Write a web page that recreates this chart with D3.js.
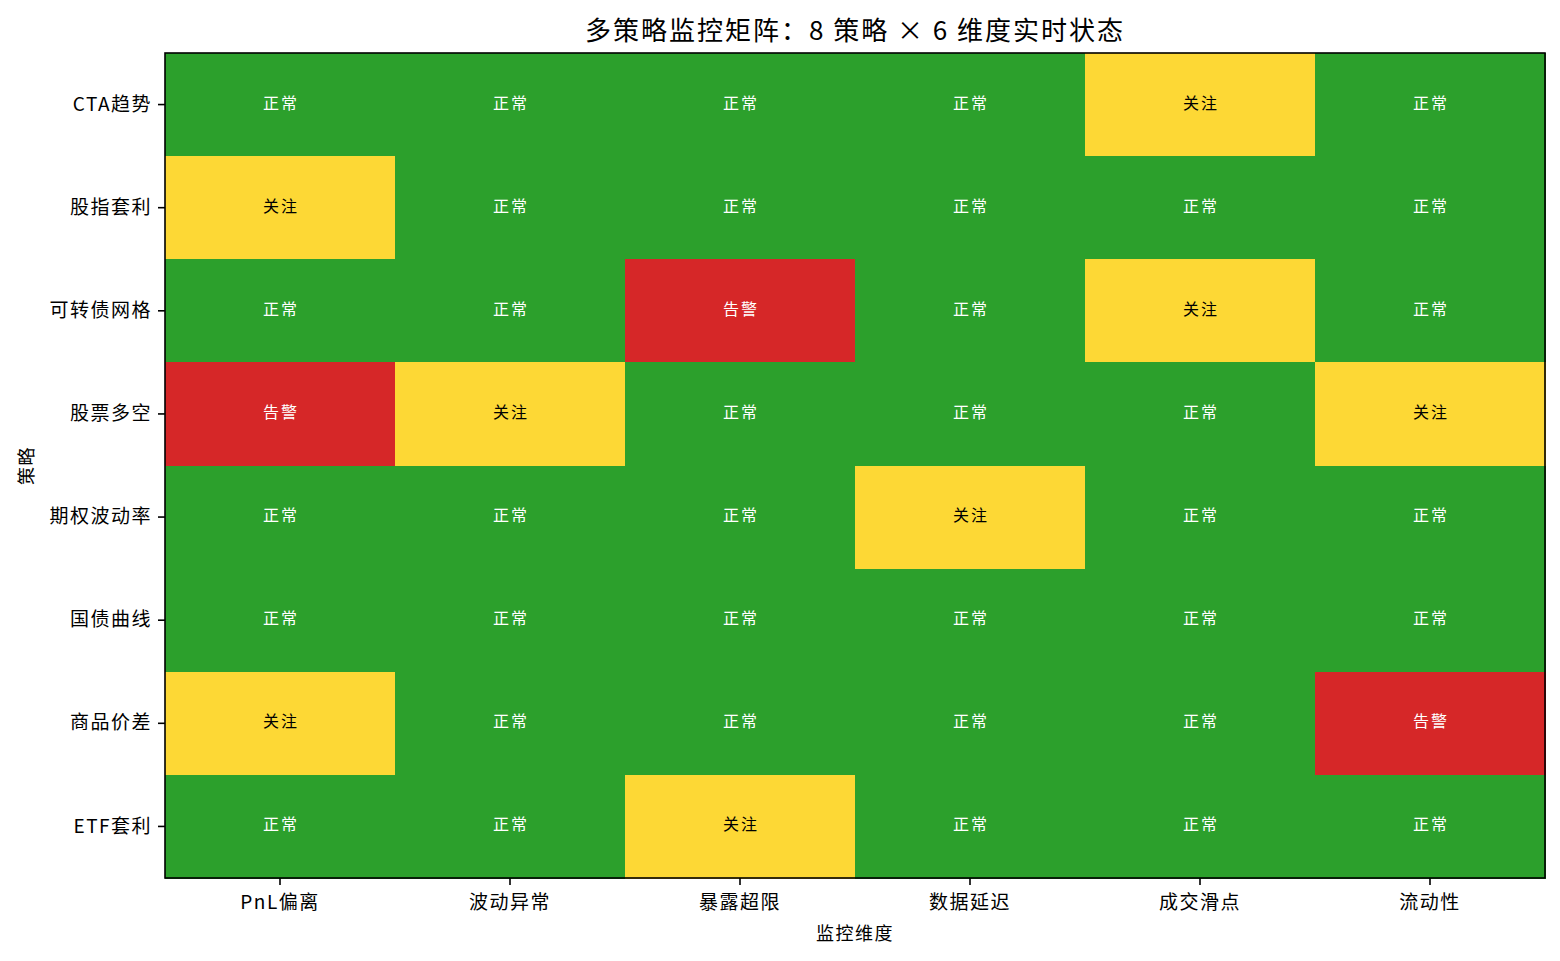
<!DOCTYPE html>
<html>
<head>
<meta charset="utf-8">
<script src="https://cdn.jsdelivr.net/npm/d3@7"></script>
<style>
  body { margin: 0; background: #fff; }
  text { font-family: "Noto Sans CJK SC", "DejaVu Sans", sans-serif; }
</style>
</head>
<body>
<div id="chart"></div>
<script>
const WIDTH = 1560;
const HEIGHT = 961;
const MARGIN = {top: 53, right: 15, bottom: 83, left: 165};

// strategies (rows) and monitoring dimensions (columns)
const strategies = ['CTA趋势', '股指套利', '可转债网格', '股票多空', '期权波动率', '国债曲线', '商品价差', 'ETF套利'];
const dimensions = ['PnL偏离', '波动异常', '暴露超限', '数据延迟', '成交滑点', '流动性'];

// 0 = 正常, 1 = 关注, 2 = 告警
const statusRows = [
  [0, 0, 0, 0, 1, 0],
  [1, 0, 0, 0, 0, 0],
  [0, 0, 2, 0, 1, 0],
  [2, 1, 0, 0, 0, 1],
  [0, 0, 0, 1, 0, 0],
  [0, 0, 0, 0, 0, 0],
  [1, 0, 0, 0, 0, 2],
  [0, 0, 1, 0, 0, 0]
];
const statusNames = ['正常', '关注', '告警'];
const statusColors = ['#2ca02c', '#fdd835', '#d62728'];
const textColors = ['#ffffff', '#000000', '#ffffff'];

const cells = [];
statusRows.forEach((row, i) => {
  row.forEach((v, j) => cells.push({strategy: strategies[i], dim: dimensions[j], v: v}));
});

const svg = d3.select('#chart')
  .append('svg')
  .attr('width', WIDTH)
  .attr('height', HEIGHT);

const xScale = d3.scaleBand()
  .domain(dimensions)
  .range([MARGIN.left, WIDTH - MARGIN.right]);

const yScale = d3.scaleBand()
  .domain(strategies)
  .range([MARGIN.top, HEIGHT - MARGIN.bottom]);

svg.selectAll('rect.cell')
  .data(cells)
  .enter()
  .append('rect')
  .attr('class', 'cell')
  .attr('x', d => xScale(d.dim))
  .attr('y', d => yScale(d.strategy))
  .attr('width', xScale.bandwidth() + 0.5)
  .attr('height', yScale.bandwidth() + 0.5)
  .attr('shape-rendering', 'crispEdges')
  .attr('fill', d => statusColors[d.v]);

svg.selectAll('text.cell-label')
  .data(cells)
  .enter()
  .append('text')
  .attr('class', 'cell-label')
  .attr('x', d => xScale(d.dim) + xScale.bandwidth() / 2 + 1)
  .attr('y', d => yScale(d.strategy) + yScale.bandwidth() / 2 - 3)
  .attr('text-anchor', 'middle')
  .attr('dominant-baseline', 'central')
  .style('font-size', '16px')
  .style('letter-spacing', '2px')
  .attr('fill', d => textColors[d.v])
  .text(d => statusNames[d.v]);

// frame
svg.append('rect')
  .attr('x', MARGIN.left)
  .attr('y', MARGIN.top)
  .attr('width', WIDTH - MARGIN.left - MARGIN.right)
  .attr('height', HEIGHT - MARGIN.top - MARGIN.bottom)
  .attr('fill', 'none')
  .attr('stroke', '#000')
  .attr('stroke-width', 1.6);

// axes
const xAxis = svg.append('g')
  .attr('transform', 'translate(0,' + (HEIGHT - MARGIN.bottom) + ')')
  .call(d3.axisBottom(xScale).tickSize(7).tickPadding(11));
const yAxis = svg.append('g')
  .attr('transform', 'translate(' + MARGIN.left + ',0)')
  .call(d3.axisLeft(yScale).tickSize(7).tickPadding(6));

[xAxis, yAxis].forEach(g => {
  g.select('.domain').remove();
  g.selectAll('.tick line').attr('stroke', '#000').attr('stroke-width', 1.6);
  g.selectAll('.tick text')
    .attr('fill', '#000')
    .style('font-family', '"Noto Sans CJK SC", "DejaVu Sans", sans-serif')
    .style('font-size', '19px')
    .style('letter-spacing', '1.5px');
});

// axis titles
svg.append('text')
  .attr('x', MARGIN.left + (WIDTH - MARGIN.left - MARGIN.right) / 2)
  .attr('y', 932)
  .attr('text-anchor', 'middle')
  .attr('dominant-baseline', 'central')
  .style('font-size', '18px')
  .style('letter-spacing', '1.5px')
  .text('监控维度');

svg.append('text')
  .attr('transform', 'translate(25,' + (MARGIN.top + (HEIGHT - MARGIN.top - MARGIN.bottom) / 2) + ') rotate(-90)')
  .attr('text-anchor', 'middle')
  .attr('dominant-baseline', 'central')
  .style('font-size', '18px')
  .style('letter-spacing', '1.5px')
  .text('策略');

// title
svg.append('text')
  .attr('x', MARGIN.left + (WIDTH - MARGIN.left - MARGIN.right) / 2)
  .attr('y', 28)
  .attr('text-anchor', 'middle')
  .attr('dominant-baseline', 'central')
  .style('font-size', '26px')
  .style('letter-spacing', '2px')
  .text('多策略监控矩阵：8 策略 × 6 维度实时状态');
</script>
</body>
</html>
